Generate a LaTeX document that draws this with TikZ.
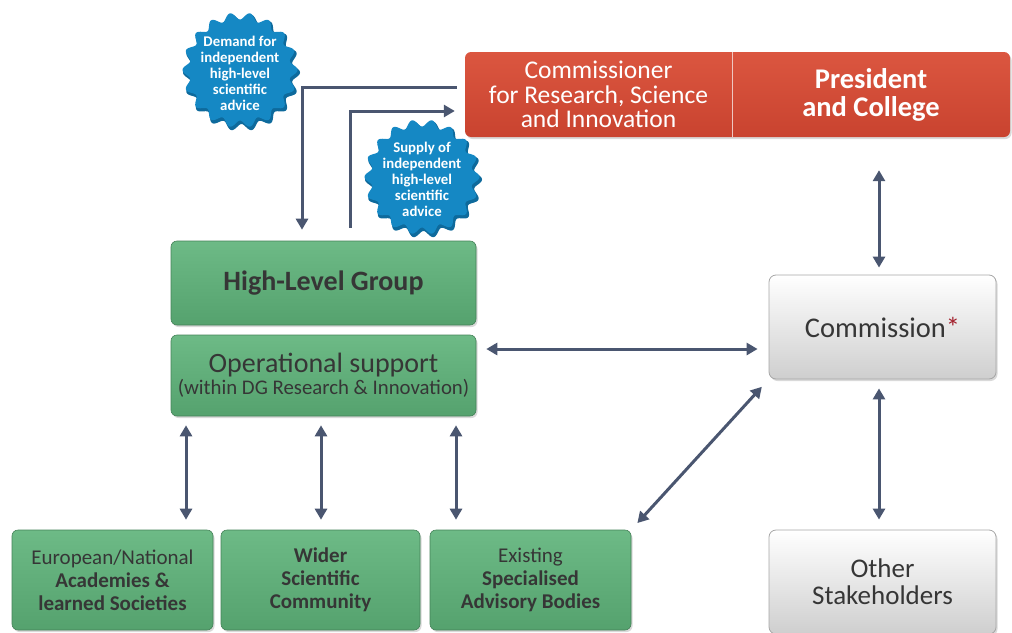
\documentclass[tikz,border=0pt]{standalone}
\usepackage{fontspec}
\setmainfont{Carlito}
\usetikzlibrary{arrows.meta,shadows}
\definecolor{grn}{HTML}{5FAE78}
\definecolor{grntop}{HTML}{6DBA86}
\definecolor{grnbot}{HTML}{55A26E}
\definecolor{redtop}{HTML}{DB5640}
\definecolor{redbot}{HTML}{C9432F}
\definecolor{txt}{HTML}{363636}
\definecolor{arrc}{HTML}{4A5670}
\definecolor{blu}{HTML}{1588C4}
\definecolor{blud}{HTML}{0E6A9C}
\definecolor{gryb}{HTML}{F3F3F3}
\definecolor{astr}{HTML}{A3202C}
\tikzset{
  gbox/.style={draw=grnbot!80!black, line width=0.6pt, rounded corners=6pt, top color=grntop, bottom color=grnbot,
    text=txt, align=center, inner sep=0pt,
    drop shadow={opacity=0.3, shadow xshift=1.5pt, shadow yshift=-2pt}},
  wbox/.style={draw=black!35, line width=0.8pt, rounded corners=7pt, top color=white, bottom color=gryb!85!black,
    text=txt, align=center, inner sep=0pt,
    drop shadow={opacity=0.3, shadow xshift=1.5pt, shadow yshift=-2pt}},
  rbox/.style={rounded corners=6pt, top color=redtop, bottom color=redbot, text=white, align=center, inner sep=0pt},
  arr/.style={draw=arrc, line width=3pt, -{Triangle[length=11pt,width=12pt]}},
  darr/.style={draw=arrc, line width=3pt, {Triangle[length=11pt,width=12pt]}-{Triangle[length=11pt,width=12pt]}},
  btxt/.style={text=white, align=center, font=\fontsize{14.8}{16}\selectfont\bfseries},
}
\begin{document}
\begin{tikzpicture}[x=1pt,y=-1pt]
\useasboundingbox (0,0) rectangle (1012,632);

% red bar
\path[rbox, drop shadow={opacity=0.3, shadow xshift=1.5pt, shadow yshift=-2pt}] (465,52) rectangle (1010,137);
\node[minimum width=267, minimum height=85, inner sep=0pt, align=center, text=white,
  font=\fontsize{25.5}{24.5}\selectfont] (commr) at (598.5,94.5) {Commissioner\\for Research, Science\\and Innovation};
\node[minimum width=278, minimum height=85, inner sep=0pt, align=center, text=white,
  font=\fontsize{28.5}{28}\selectfont\bfseries] (pres) at (871,94.5) {President\\and College};
\draw[white!70!redbot, line width=0.8pt] (commr.north east) -- (commr.south east);

% badges
\fill[blud] plot[domain=0:360, samples=300, smooth] ({241.5+(55+3.5*cos(18*\x))*cos(\x)}, {72.5+(55+3.5*cos(18*\x))*sin(\x)}) -- cycle;
\fill[blu] plot[domain=0:360, samples=300, smooth] ({240+(54+3.5*cos(18*\x))*cos(\x)}, {70+(54+3.5*cos(18*\x))*sin(\x)}) -- cycle;
\node[btxt] (demand) at (240,73) {Demand for\\independent\\high-level\\scientific\\advice};

\fill[blud] plot[domain=0:360, samples=300, smooth] ({423.5+(55+3.5*cos(18*\x))*cos(\x)}, {179.5+(55+3.5*cos(18*\x))*sin(\x)}) -- cycle;
\fill[blu] plot[domain=0:360, samples=300, smooth] ({422+(54+3.5*cos(18*\x))*cos(\x)}, {177+(54+3.5*cos(18*\x))*sin(\x)}) -- cycle;
\node[btxt] (supply) at (422,179) {Supply of\\independent\\high-level\\scientific\\advice};

% green boxes
\node[gbox, minimum width=305, minimum height=84, font=\fontsize{28}{30}\selectfont\bfseries] (hlg) at (323.5,283) {High-Level Group};
\node[gbox, minimum width=305, minimum height=81, font=\fontsize{28}{22}\selectfont] (ops) at (323.5,375.5)
  {Operational support\\{\fontsize{20.8}{22}\selectfont (within DG Research \& Innovation)}};

\node[gbox, minimum width=201, minimum height=100, font=\fontsize{21}{23}\selectfont] (acad) at (112.5,580)
  {European/National\\\textbf{Academies \&}\\\textbf{learned Societies}};
\node[gbox, minimum width=199, minimum height=100, font=\fontsize{21}{23}\selectfont\bfseries] (wider) at (320.5,580)
  {Wider\\Scientific\\Community};
\node[gbox, minimum width=201, minimum height=100, font=\fontsize{21}{23}\selectfont] (spec) at (530.5,580)
  {Existing\\\textbf{Specialised}\\\textbf{Advisory Bodies}};

% grey boxes
\node[wbox, minimum width=227, minimum height=104, font=\fontsize{28.5}{30}\selectfont] (comm) at (882.5,327)
  {Commission\textcolor{astr}{*}};
\node[wbox, minimum width=227, minimum height=104, font=\fontsize{27}{27}\selectfont] (other) at (882.5,582)
  {Other\\Stakeholders};

% connectors
\draw[arr, shorten <=8pt, shorten >=11pt] ([yshift=7.5pt]commr.west) -| ([xshift=-21.5pt]hlg.north);
\draw[arr, shorten <=13pt, shorten >=10pt] ([xshift=26.5pt]hlg.north) |- ([yshift=-16.5pt]commr.west);
\draw[darr, shorten <=10pt, shorten >=11pt] (ops.east |- 0,349) -- (comm.west |- 0,349);
\draw[darr, shorten <=33pt, shorten >=7pt] ([xshift=-3.5pt]comm.north |- pres.south) -- ([xshift=-3.5pt]comm.north);
\draw[darr, shorten <=9pt, shorten >=10pt] ([xshift=-3.5pt]comm.south) -- ([xshift=-3.5pt]comm.south |- other.north);
\draw[darr, shorten <=9pt, shorten >=10pt] (spec.north east) -- (comm.south west);
\draw[darr, shorten <=9pt, shorten >=10pt] ([xshift=-137.5pt]ops.south) -- ([xshift=-137.5pt]ops.south |- acad.north);
\draw[darr, shorten <=9pt, shorten >=10pt] ([xshift=-2.5pt]ops.south) -- ([xshift=-2.5pt]ops.south |- wider.north);
\draw[darr, shorten <=9pt, shorten >=10pt] ([xshift=132.5pt]ops.south) -- ([xshift=132.5pt]ops.south |- spec.north);
\end{tikzpicture}
\end{document}
